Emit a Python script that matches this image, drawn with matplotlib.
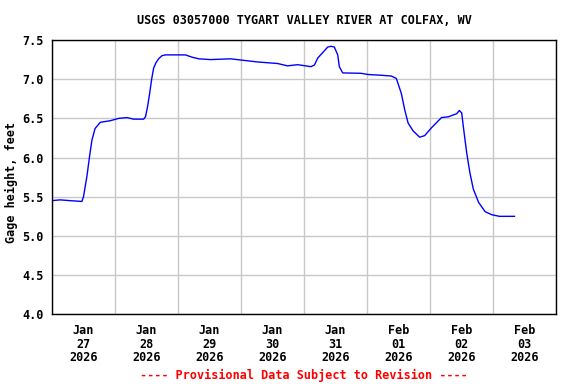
import matplotlib
matplotlib.use("Agg")
import matplotlib.pyplot as plt
import matplotlib.dates as mdates
import pandas as pd

# hours since 2026-01-27 00:00 and gage height (ft)
hours = [0.0, 3.2, 7.0, 11.5, 12.1, 13.4, 14.4, 15.3, 16.5, 18.5, 22.3, 25.5,
         28.7, 31.2, 35.0, 35.7, 36.5, 37.3, 38.1, 38.8, 39.7, 40.7, 42.0, 43.3,
         50.9, 53.5, 56.0, 60.5, 68.1, 71.9, 78.3, 86.0, 89.8, 93.6, 98.7, 100.0,
         101.3, 103.2, 105.1, 106.4, 107.6, 108.9, 109.5, 110.8, 117.8, 120.4,
         125.5, 129.3, 131.2, 132.5, 133.1, 134.4, 135.7, 137.6, 140.1, 142.0,
         144.6, 148.4, 151.0, 154.2, 155.2, 156.1, 156.7, 158.0, 159.2, 160.5,
         162.5, 165.0, 167.6, 170.5, 176.2]
gage_ft = [5.45, 5.46, 5.45, 5.44, 5.50, 5.76, 6.01, 6.22, 6.37, 6.45, 6.47, 6.50,
           6.51, 6.49, 6.49, 6.52, 6.65, 6.82, 7.01, 7.14, 7.21, 7.26, 7.30, 7.31,
           7.31, 7.28, 7.26, 7.25, 7.26, 7.245, 7.22, 7.20, 7.17, 7.185, 7.16, 7.18,
           7.27, 7.34, 7.41, 7.42, 7.41, 7.31, 7.16, 7.08, 7.075, 7.06,
           7.05, 7.04, 7.01, 6.88, 6.82, 6.61, 6.44, 6.34, 6.26, 6.28,
           6.38, 6.51, 6.52, 6.56, 6.60, 6.57, 6.40, 6.06, 5.81, 5.60,
           5.43, 5.31, 5.27, 5.25, 5.25]

start = pd.Timestamp("2026-01-27")
times = [start + pd.Timedelta(hours=h) for h in hours]

mono = "DejaVu Sans Mono"
fs = 8.5

fig = plt.figure(figsize=(5.76, 3.84), dpi=100)
ax = fig.add_axes([51.7 / 576, 1 - 314.3 / 384, (556 - 51.7) / 576, (314.3 - 40) / 384])

ax.plot(times, gage_ft, color="#0000ff", linewidth=1.0)

ax.set_xlim(start, start + pd.Timedelta(days=8))
ax.set_ylim(4.0, 7.5)
ax.set_yticks([4.0, 4.5, 5.0, 5.5, 6.0, 6.5, 7.0, 7.5])
ax.set_yticklabels([f"{v:.1f}" for v in ax.get_yticks()], fontfamily=mono,
                   fontweight="bold", fontsize=fs)

ax.xaxis.set_major_locator(mdates.DayLocator())
ax.xaxis.set_major_formatter(plt.NullFormatter())
ax.xaxis.set_minor_locator(mdates.HourLocator(byhour=12))
ax.xaxis.set_minor_formatter(mdates.DateFormatter("%b\n%d\n%Y"))
for lab in ax.xaxis.get_minorticklabels():
    lab.set_fontfamily(mono)
    lab.set_fontweight("bold")
    lab.set_fontsize(fs)
    lab.set_linespacing(1.05)

ax.tick_params(axis="both", which="both", length=0)
ax.tick_params(axis="y", pad=6)
ax.tick_params(axis="x", which="minor", pad=7)

ax.grid(True, which="major", color="#c8c8c8", linewidth=1.0)
ax.set_axisbelow(True)
for s in ax.spines.values():
    s.set_color("black")
    s.set_linewidth(1.0)

# y label placed by hand so it sits inside the canvas like the original
fig.text(11.5 / 576, 1 - 182 / 384, "Gage height, feet", rotation=90,
         ha="center", va="center", fontfamily=mono, fontweight="bold", fontsize=fs)

fig.text(304 / 576, 1 - 20 / 384, "USGS 03057000 TYGART VALLEY RIVER AT COLFAX, WV",
         ha="center", va="center", fontfamily=mono, fontweight="bold", fontsize=fs)
fig.text(304 / 576, 1 - 375 / 384, "---- Provisional Data Subject to Revision ----",
         ha="center", va="center", fontfamily=mono, fontweight="bold", fontsize=fs,
         color="red")

fig.savefig("out.png", dpi=100)
